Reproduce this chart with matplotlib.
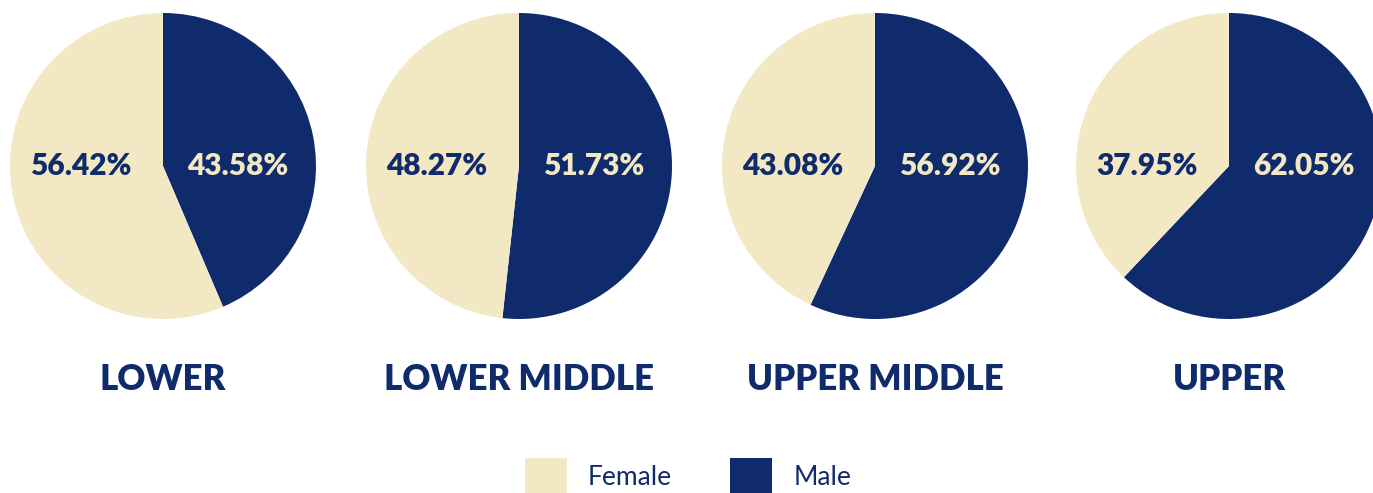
import matplotlib
matplotlib.use("Agg")
import matplotlib.pyplot as plt
from matplotlib import patches

categories = ["LOWER", "LOWER MIDDLE", "UPPER MIDDLE", "UPPER"]
female = [56.42, 48.27, 43.08, 37.95]
male = [43.58, 51.73, 56.92, 62.05]
series = ["Female", "Male"]

CREAM = "#F2E8C3"
NAVY = "#0F2B6B"
FONT = ["Lato", "DejaVu Sans"]

W, H = 1373, 493
fig = plt.figure(figsize=(W / 100, H / 100), dpi=100)

centers_x = [163, 519, 875, 1229]  # pie centres in pixels
cy = 166
r = 153

for i, cat in enumerate(categories):
    ax = fig.add_axes([(centers_x[i] - r) / W, 1 - (cy + r) / H, 2 * r / W, 2 * r / H])
    # male clockwise from 12 o'clock, female the rest
    ax.pie([male[i], female[i]], colors=[NAVY, CREAM], startangle=90,
           counterclock=False, radius=1.0,
           wedgeprops=dict(linewidth=0))
    ax.set_xlim(-1, 1)
    ax.set_ylim(-1, 1)
    ax.set_aspect("equal")
    ax.axis("off")
    ax.text(-82 / r, 0, f"{female[i]:.2f}%", ha="center", va="center",
            color=NAVY, fontsize=21.5, fontweight="heavy", family=FONT)
    ax.text(75 / r, 0, f"{male[i]:.2f}%", ha="center", va="center",
            color=CREAM, fontsize=21.5, fontweight="heavy", family=FONT)
    fig.text(centers_x[i] / W, 1 - 380 / H, cat, ha="center", va="center",
             color=NAVY, fontsize=25, fontweight="heavy", family=FONT)

handles = [patches.Patch(facecolor=CREAM, edgecolor="none"),
           patches.Patch(facecolor=NAVY, edgecolor="none")]
fig.legend(handles, series, loc="center", bbox_to_anchor=(688 / W, 1 - 476 / H),
           ncol=2, frameon=False, handlelength=1.6, handleheight=1.7,
           handletextpad=0.8, columnspacing=2.2,
           prop=dict(family=FONT, size=19), labelcolor=NAVY)

fig.savefig("out.png", dpi=100)
